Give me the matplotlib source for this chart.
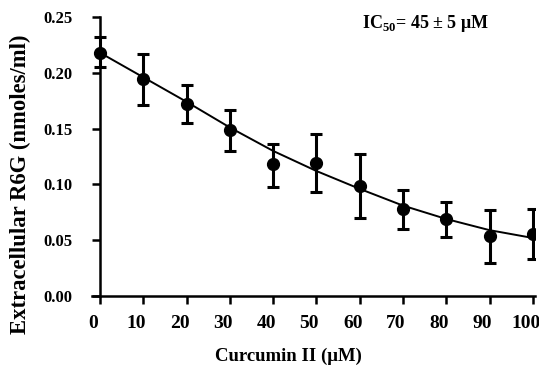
import matplotlib
matplotlib.use("Agg")
import matplotlib.pyplot as plt
import matplotlib.transforms as mtransforms

# 讀取圖上的數值
conc = [0, 10, 20, 30, 40, 50, 60, 70, 80, 90, 100]
r6g = [0.218, 0.194, 0.172, 0.149, 0.118, 0.119, 0.099, 0.078, 0.069, 0.054, 0.056]
err_hi = [0.232, 0.217, 0.189, 0.167, 0.136, 0.145, 0.127, 0.095, 0.084, 0.077, 0.078]
err_lo = [0.205, 0.171, 0.155, 0.130, 0.098, 0.093, 0.070, 0.060, 0.053, 0.030, 0.033]

# 擬合曲線
fit_x = [0, 10, 20, 30, 40, 50, 60, 70, 80, 90, 100]
fit_y = [0.218, 0.196, 0.174, 0.151, 0.130, 0.112, 0.096, 0.081, 0.069, 0.059, 0.052]

x_ticks = [0, 10, 20, 30, 40, 50, 60, 70, 80, 90, 100]
y_ticks = [0.00, 0.05, 0.10, 0.15, 0.20, 0.25]

plt.rcParams["font.family"] = ["Liberation Serif", "DejaVu Serif"]
plt.rcParams["font.weight"] = "bold"
plt.rcParams["mathtext.fontset"] = "custom"
plt.rcParams["mathtext.rm"] = "Liberation Serif:bold"
plt.rcParams["mathtext.bf"] = "Liberation Serif:bold"

fig = plt.figure(figsize=(5.39, 3.75), dpi=100)
ax = fig.add_axes([92 / 539, 1 - 296 / 375, (535 - 92) / 539, (296 - 17) / 375])

yerr = [[m - lo for m, lo in zip(r6g, err_lo)], [hi - m for m, hi in zip(r6g, err_hi)]]
ax.plot(fit_x, fit_y, color="black", linewidth=1.4, zorder=2)
ax.errorbar(conc, r6g, yerr=yerr, fmt="o", color="black", markersize=8.5,
            elinewidth=2.2, capsize=4.2, capthick=2.2, zorder=3)

ax.set_xlim(-1.85, 100.5)
ax.set_ylim(0, 0.25)
ax.spines["left"].set_position(("data", 0))
ax.spines["top"].set_visible(False)
ax.spines["right"].set_visible(False)
ax.spines["left"].set_linewidth(1.8)
ax.spines["bottom"].set_linewidth(1.8)

ax.set_xticks(x_ticks)
ax.set_yticks(y_ticks)
ax.set_yticklabels(["%.2f" % v for v in y_ticks], fontsize=12, fontweight="bold")
ax.set_xticklabels([str(v) for v in x_ticks], fontsize=14, fontweight="bold")
ax.tick_params(axis="y", length=6, width=1.8, pad=14)
ax.tick_params(axis="x", length=6, width=1.8, pad=8)

shift = mtransforms.ScaledTranslation(-7 / 100, 0, fig.dpi_scale_trans)
for lab in ax.get_xticklabels():
    lab.set_transform(lab.get_transform() + shift)

fig.text(288 / 539, 1 - 356 / 375, "Curcumin II (\u03bcM)", ha="center", va="center",
         fontsize=13.5, fontweight="bold")
fig.text(20 / 539, 1 - 184 / 375, "Extracellular R6G (nmoles/ml)", ha="center", va="center",
         rotation=90, fontsize=16.3, fontweight="bold")
fig.text(426 / 539, 1 - 24 / 375, "IC$_{50}$= 45 \u00b1 5 \u03bcM",
         ha="center", va="center", fontsize=13, fontweight="bold")

fig.savefig("out.png", dpi=100)
